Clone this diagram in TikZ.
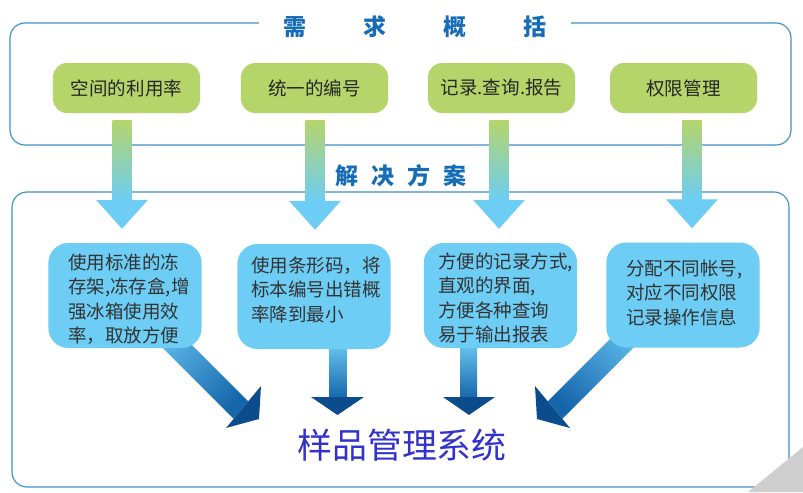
\documentclass[tikz,border=0pt]{standalone}
\usepackage{fontspec}
\setmainfont{Noto Sans CJK SC}
\usepackage{tikz}
\usetikzlibrary{positioning, calc, backgrounds}
\usepackage{xcolor}
\definecolor{frameblue}{RGB}{60,145,200}
\definecolor{headblue}{RGB}{22,108,182}
\definecolor{needgreen}{RGB}{181,213,107}
\definecolor{solblue}{RGB}{109,205,244}
\definecolor{shaftlight}{RGB}{98,192,236}
\definecolor{shaftdark}{RGB}{22,102,172}
\definecolor{arrowdark}{RGB}{12,76,140}
\definecolor{sysviolet}{RGB}{51,51,204}
\definecolor{curlgray}{RGB}{206,206,206}
\tikzset{
  needbox/.style={fill=needgreen, rounded corners=0.42cm, minimum width=4.41cm,
    minimum height=1.5cm, inner sep=0pt, font=\fontsize{15.8}{19}\selectfont, text=black!85},
  solbox/.style={fill=solblue, rounded corners=0.6cm, minimum width=4.6cm,
    minimum height=3.15cm, inner sep=0pt},
  soltext/.style={anchor=base west, inner sep=0pt, text width=4.6cm, align=left,
    font=\fontsize{15.8}{21}\selectfont, text=black!80},
  headline/.style={font=\fontsize{19.6}{22}\selectfont\bfseries, text=headblue},
  frame/.style={draw=frameblue, line width=1pt, rounded corners=0.45cm}
}

\begin{document}
\begin{tikzpicture}[x=0.03cm, y=-0.03cm]
\useasboundingbox (0,0) rectangle (803,492);
% needs
\node[needbox] (need1) at (126.5,88) {空间的利用率};
\node[needbox] (need2) at (314.5,88) {统一的编号};
\node[needbox] (need3) at (501.5,88) {记录.查询.报告};
\node[needbox] (need4) at (683.5,88) {权限管理};
% solutions
\node[solbox] (sol1) at (125,295.5) {};
\node[solbox] (sol2) at (314,296.5) {};
\node[solbox] (sol3) at (500.5,295.5) {};
\node[solbox] (sol4) at (683,295) {};
\node[soltext] (sol1txt) at (68,269) {使用标准的冻\\存架,冻存盒,增\\强冰箱使用效\\率，取放方便};
\node[soltext] (sol2txt) at (251,272) {使用条形码，将\\标本编号出错概\\率降到最小};
\node[soltext] (sol3txt) at (438,268) {方便的记录方式,\\直观的界面,\\方便各种查询\\易于输出报表};
\node[soltext] (sol4txt) at (626,275) {分配不同帐号,\\对应不同权限\\记录操作信息};
% titles
\node[headline, fill=white, inner xsep=21pt, inner ysep=2pt] (needhead) at (415,27)
  {需\hspace{48.6pt}求\hspace{48.6pt}概\hspace{48.6pt}括};
\node[headline] (solhead) at (401,176) {解\hspace{11pt}决\hspace{11pt}方\hspace{11pt}案};
\node[font=\fontsize{29.8}{32}\selectfont, text=sysviolet] (system) at (402,445) {样品管理系统};
% need -> solution
\foreach \i/\x in {1/122,2/315,3/499,4/692} {
  \shade[top color=needgreen, bottom color=solblue]
    ($(\x,0 |- need\i.south)+(-9.5,7)$) rectangle ($(\x,0 |- sol\i.north)+(9.5,-42)$);
  \fill[solblue] ($(\x,0 |- sol\i.north)+(-26,-43)$) -- ($(\x,0 |- sol\i.north)+(26,-43)$)
    -- ($(\x,0 |- sol\i.north)+(0,-14)$) -- cycle;
}
% solution -> system
\fill[arrowdark] (261,386) -- (259,419) -- (226,428) -- cycle;
\fill[arrowdark] (535,386) -- (537,419) -- (570,428) -- cycle;
\fill[arrowdark] (311,397) -- (364,397) -- (337.5,415) -- cycle;
\fill[arrowdark] (443,397) -- (495,397) -- (469,415) -- cycle;
\begin{scope}[on background layer]
\draw[frame] (10,23) rectangle (791,145);
\draw[frame] (12,192) rectangle (789,487);
\fill[curlgray] (748,492) -- (803,447) -- (803,492) -- cycle;
\shade[top color=shaftlight, bottom color=shaftdark, shading angle=45]
  (139,324) -- (175,328) -- (248.3,401.3) -- (233.7,418.7) -- cycle;
\shade[top color=shaftlight, bottom color=shaftdark, shading angle=-45]
  (657,324) -- (621,328) -- (547.7,401.3) -- (562.3,418.7) -- cycle;
\shade[top color=solblue, bottom color=shaftdark] (329.5,340) rectangle (346.5,398);
\shade[top color=solblue, bottom color=shaftdark] (460,340) rectangle (477,398);
\end{scope}
\end{tikzpicture}
\end{document}
